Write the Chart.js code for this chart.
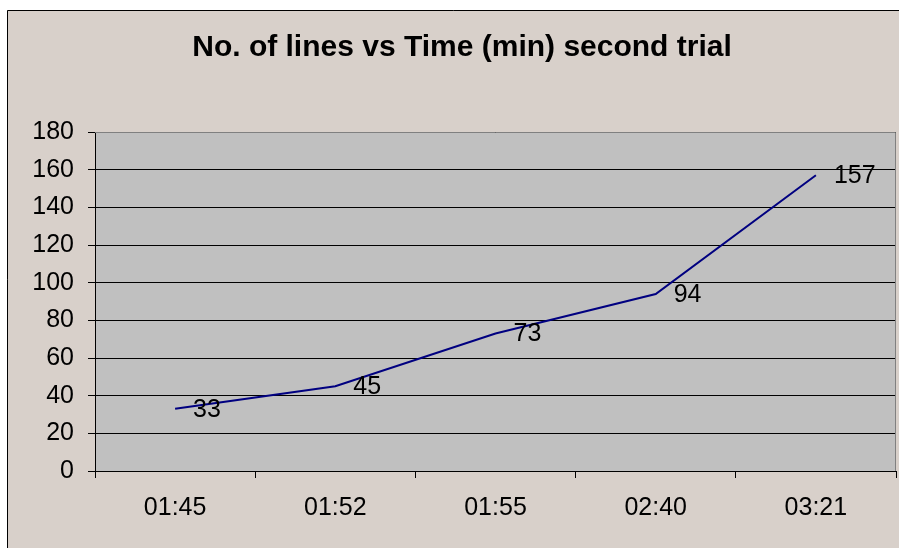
<!DOCTYPE html>
<html>
<head>
<meta charset="utf-8">
<script src="https://cdn.jsdelivr.net/npm/chart.js@4.4.0/dist/chart.umd.min.js"></script>
<style>
  html, body { margin: 0; padding: 0; background: #ffffff; }
  #grafica { display: block; }
</style>
</head>
<body>
<canvas id="grafica" width="899" height="548"></canvas>
<script>
const tiempos = ["01:45", "01:52", "01:55", "02:40", "03:21"];
const lineas = [33, 45, 73, 94, 157];
const titulo = "No. of lines vs Time (min) second trial";

const fuente = "'Liberation Sans', Arial, sans-serif";

const canvas = document.getElementById("grafica");
const ctx = canvas.getContext("2d");

// fondo, borde exterior y area gris del grafico
const fondo = {
  id: "fondo",
  beforeDraw(chart) {
    const c = chart.ctx;
    const a = chart.chartArea;
    c.save();
    c.fillStyle = "#ffffff";
    c.fillRect(0, 0, chart.width, chart.height);
    c.fillStyle = "#d8d0ca";
    c.fillRect(7, 10, chart.width - 7, chart.height - 10);
    c.strokeStyle = "#000000";
    c.lineWidth = 1;
    c.beginPath();
    c.moveTo(7.5, chart.height);
    c.lineTo(7.5, 10.5);
    c.lineTo(chart.width, 10.5);
    c.stroke();
    c.fillStyle = "#c0c0c0";
    c.fillRect(a.left, a.top, a.right - a.left, a.bottom - a.top);
    // titulo
    c.fillStyle = "#000000";
    c.font = "bold 30px " + fuente;
    c.textAlign = "center";
    c.textBaseline = "middle";
    c.fillText(titulo, 462, 48);
    c.restore();
  },
  afterDraw(chart) {
    const c = chart.ctx;
    const a = chart.chartArea;
    c.save();
    c.strokeStyle = "#808080";
    c.lineWidth = 1;
    c.beginPath();
    c.moveTo(a.left, a.top + 0.5);
    c.lineTo(a.right - 0.5, a.top + 0.5);
    c.lineTo(a.right - 0.5, a.bottom);
    c.stroke();
    c.restore();
  }
};

// etiquetas de valores a la derecha de cada punto
const etiquetas = {
  id: "etiquetas",
  afterDatasetsDraw(chart) {
    const c = chart.ctx;
    const meta = chart.getDatasetMeta(0);
    c.save();
    c.fillStyle = "#000000";
    c.font = "25px " + fuente;
    c.textAlign = "left";
    c.textBaseline = "middle";
    meta.data.forEach((p, i) => {
      c.fillText(String(lineas[i]), p.x + 18, p.y + 1);
    });
    c.restore();
  }
};

let grafico = new Chart(ctx, {
  type: "line",
  data: {
    labels: tiempos,
    datasets: [
      {
        data: lineas,
        borderColor: "#000080",
        borderWidth: 2,
        fill: false,
        tension: 0,
        pointRadius: 0,
      },
    ],
  },
  options: {
    responsive: false,
    animation: false,
    layout: {
      padding: { top: 132, right: 3, bottom: 0, left: 0 },
    },
    plugins: {
      legend: { display: false },
      title: { display: false },
      tooltip: { enabled: false },
    },
    scales: {
      x: {
        type: "category",
        offset: true,
        grid: {
          offset: true,
          drawOnChartArea: false,
          drawTicks: true,
          tickLength: 7,
          color: "#000000",
        },
        border: { display: true, color: "#000000" },
        ticks: {
          color: "#000000",
          font: { family: fuente, size: 25 },
          padding: 15,
          maxRotation: 0,
        },
        afterFit(scale) {
          scale.height = 77;
        },
      },
      y: {
        type: "linear",
        min: 0,
        max: 180,
        grid: {
          color: "#000000",
          lineWidth: 1,
          drawTicks: true,
          tickLength: 7,
        },
        border: { display: true, color: "#000000" },
        ticks: {
          stepSize: 20,
          color: "#000000",
          font: { family: fuente, size: 25 },
          padding: 14,
        },
        afterFit(scale) {
          scale.width = 95;
        },
      },
    },
  },
  plugins: [fondo, etiquetas],
});
</script>
</body>
</html>
